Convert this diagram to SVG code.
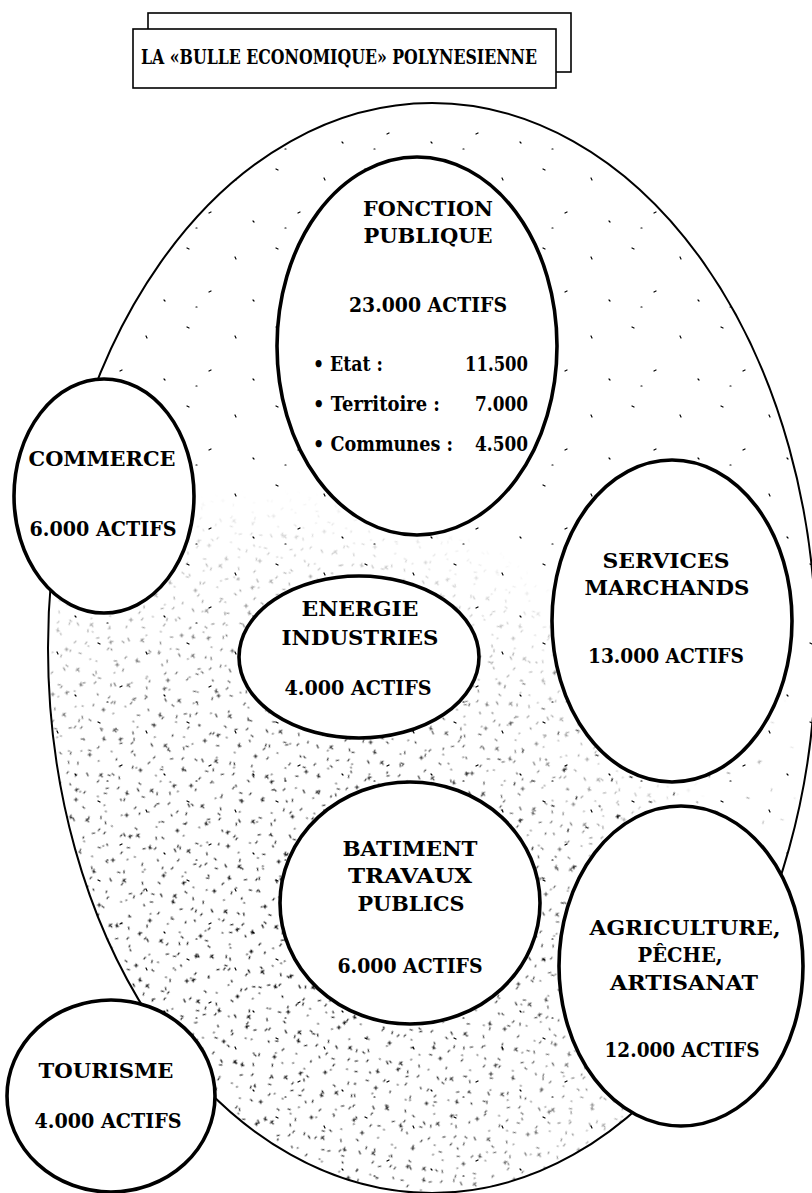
<svg xmlns="http://www.w3.org/2000/svg" width="812" height="1193" viewBox="0 0 812 1193">
<style>
.t{font-family:"DejaVu Serif","Liberation Serif",serif;font-weight:bold;font-size:21px;fill:#000;text-anchor:middle}
.ts{font-family:"DejaVu Serif","Liberation Serif",serif;font-weight:bold;font-size:21px;fill:#000}
.node{fill:#fff;stroke:#000;stroke-width:3.6}
.box{fill:#fff;stroke:#000;stroke-width:1.6}
.mk{stroke:#000;stroke-width:1.2;fill:none;stroke-linecap:round}
</style>
<defs>
<pattern id="sp1" width="89" height="79" patternUnits="userSpaceOnUse">
<path class="mk" d="M9 11l2 1M57 20l1 2M31 55l2-1M75 63l1 1M18 70h1"/>
</pattern>
<pattern id="sp2" width="53" height="47" patternUnits="userSpaceOnUse" patternTransform="rotate(17)">
<path class="mk" d="M4 6l3 2M6 5l-2 3M23 3l1 2M14 18l2-1M31 24l1 1M8 28h1M26 13l-1 2M44 9l2 2M40 38l3-1M41 36l1 3M20 40h1M48 27l-1 2"/>
</pattern>
<pattern id="sp3" width="61" height="59" patternUnits="userSpaceOnUse" patternTransform="rotate(-23)">
<path class="mk" d="M5 8l1 2M30 4l2 1M18 24l-1 2M37 31h1M10 36l2-1M25 15h1M50 12l2 2M52 11l-2 3M45 48l1 2M28 50l2-1M8 52h1M55 36l-1 1"/>
</pattern>
<pattern id="sp4" width="71" height="67" patternUnits="userSpaceOnUse" patternTransform="rotate(41)">
<path class="mk" d="M7 9l2 2M9 8l-2 3M35 22l1 2M58 14h1M22 45l2-1M50 52l1 2M64 38l-2 1"/>
</pattern>
<radialGradient id="gd" gradientUnits="userSpaceOnUse" cx="270" cy="960" r="470">
<stop offset="0" stop-color="#fff"/>
<stop offset="0.55" stop-color="#bbb"/>
<stop offset="1" stop-color="#000"/>
</radialGradient>
<radialGradient id="gd2" gradientUnits="userSpaceOnUse" cx="620" cy="800" r="200">
<stop offset="0" stop-color="#fff"/>
<stop offset="1" stop-color="#000"/>
</radialGradient>
<mask id="md"><rect width="812" height="1193" fill="url(#gd)"/></mask>
<mask id="md2"><rect width="812" height="1193" fill="url(#gd2)"/></mask>
<clipPath id="cb"><ellipse cx="432" cy="648" rx="384" ry="545"/></clipPath>
</defs>
<rect width="812" height="1193" fill="#fff"/>

<g id="title">
<rect class="box" x="148" y="13" width="423" height="59"/>
<rect class="box" x="133" y="29" width="423" height="59"/>
<text class="ts" x="141" y="64" textLength="396" lengthAdjust="spacingAndGlyphs">LA «BULLE ECONOMIQUE» POLYNESIENNE</text>
</g>

<g id="bulle">
<ellipse cx="432" cy="648" rx="384" ry="545" fill="#fff" stroke="#000" stroke-width="2"/>
<g clip-path="url(#cb)">
<rect width="812" height="1193" fill="url(#sp1)"/>
<g mask="url(#md)">
<rect width="812" height="1193" fill="url(#sp2)"/>
<rect width="812" height="1193" fill="url(#sp3)"/>
<rect width="812" height="1193" fill="url(#sp4)"/>
</g>
<g mask="url(#md2)">
<rect width="812" height="1193" fill="url(#sp4)"/>
</g>
</g>
</g>

<g id="connectors"></g>

<g id="fonction-publique">
<ellipse class="node" cx="417" cy="346" rx="140" ry="189"/>
<text class="t" x="428" y="216" textLength="130" lengthAdjust="spacingAndGlyphs">FONCTION</text>
<text class="t" x="428" y="243" textLength="129" lengthAdjust="spacingAndGlyphs">PUBLIQUE</text>
<text class="t" x="428" y="312" textLength="158" lengthAdjust="spacingAndGlyphs">23.000 ACTIFS</text>
<text class="ts" x="313" y="371" textLength="70" lengthAdjust="spacingAndGlyphs">• Etat :</text>
<text class="ts" x="465" y="371" textLength="63" lengthAdjust="spacingAndGlyphs">11.500</text>
<text class="ts" x="313" y="411" textLength="127" lengthAdjust="spacingAndGlyphs">• Territoire :</text>
<text class="ts" x="475" y="411" textLength="53" lengthAdjust="spacingAndGlyphs">7.000</text>
<text class="ts" x="313" y="451" textLength="140" lengthAdjust="spacingAndGlyphs">• Communes :</text>
<text class="ts" x="475" y="451" textLength="53" lengthAdjust="spacingAndGlyphs">4.500</text>
</g>

<g id="commerce">
<ellipse class="node" cx="104" cy="496" rx="90" ry="117"/>
<text class="t" x="102" y="466" textLength="147" lengthAdjust="spacingAndGlyphs">COMMERCE</text>
<text class="t" x="103" y="536" textLength="147" lengthAdjust="spacingAndGlyphs">6.000 ACTIFS</text>
</g>

<g id="services-marchands">
<ellipse class="node" cx="672" cy="621" rx="120" ry="161"/>
<text class="t" x="666" y="568" textLength="127" lengthAdjust="spacingAndGlyphs">SERVICES</text>
<text class="t" x="667" y="595" textLength="165" lengthAdjust="spacingAndGlyphs">MARCHANDS</text>
<text class="t" x="666" y="663" textLength="156" lengthAdjust="spacingAndGlyphs">13.000 ACTIFS</text>
</g>

<g id="energie-industries">
<ellipse class="node" cx="359" cy="657" rx="120" ry="81"/>
<text class="t" x="360" y="616" textLength="117" lengthAdjust="spacingAndGlyphs">ENERGIE</text>
<text class="t" x="360" y="645" textLength="157" lengthAdjust="spacingAndGlyphs">INDUSTRIES</text>
<text class="t" x="358" y="695" textLength="147" lengthAdjust="spacingAndGlyphs">4.000 ACTIFS</text>
</g>

<g id="batiment-travaux-publics">
<ellipse class="node" cx="410" cy="903" rx="130" ry="121"/>
<text class="t" x="410" y="856" textLength="135" lengthAdjust="spacingAndGlyphs">BATIMENT</text>
<text class="t" x="410" y="883" textLength="124" lengthAdjust="spacingAndGlyphs">TRAVAUX</text>
<text class="t" x="411" y="911" textLength="107" lengthAdjust="spacingAndGlyphs">PUBLICS</text>
<text class="t" x="410" y="973" textLength="145" lengthAdjust="spacingAndGlyphs">6.000 ACTIFS</text>
</g>

<g id="agriculture-peche-artisanat">
<ellipse class="node" cx="681" cy="966" rx="122" ry="160"/>
<text class="t" x="685" y="935" textLength="191" lengthAdjust="spacingAndGlyphs">AGRICULTURE,</text>
<text class="t" x="680" y="962" textLength="85" lengthAdjust="spacingAndGlyphs">PÊCHE,</text>
<text class="t" x="684" y="990" textLength="148" lengthAdjust="spacingAndGlyphs">ARTISANAT</text>
<text class="t" x="682" y="1057" textLength="155" lengthAdjust="spacingAndGlyphs">12.000 ACTIFS</text>
</g>

<g id="tourisme">
<ellipse class="node" cx="111" cy="1096" rx="104" ry="96"/>
<text class="t" x="106" y="1078" textLength="135" lengthAdjust="spacingAndGlyphs">TOURISME</text>
<text class="t" x="108" y="1128" textLength="147" lengthAdjust="spacingAndGlyphs">4.000 ACTIFS</text>
</g>
</svg>
